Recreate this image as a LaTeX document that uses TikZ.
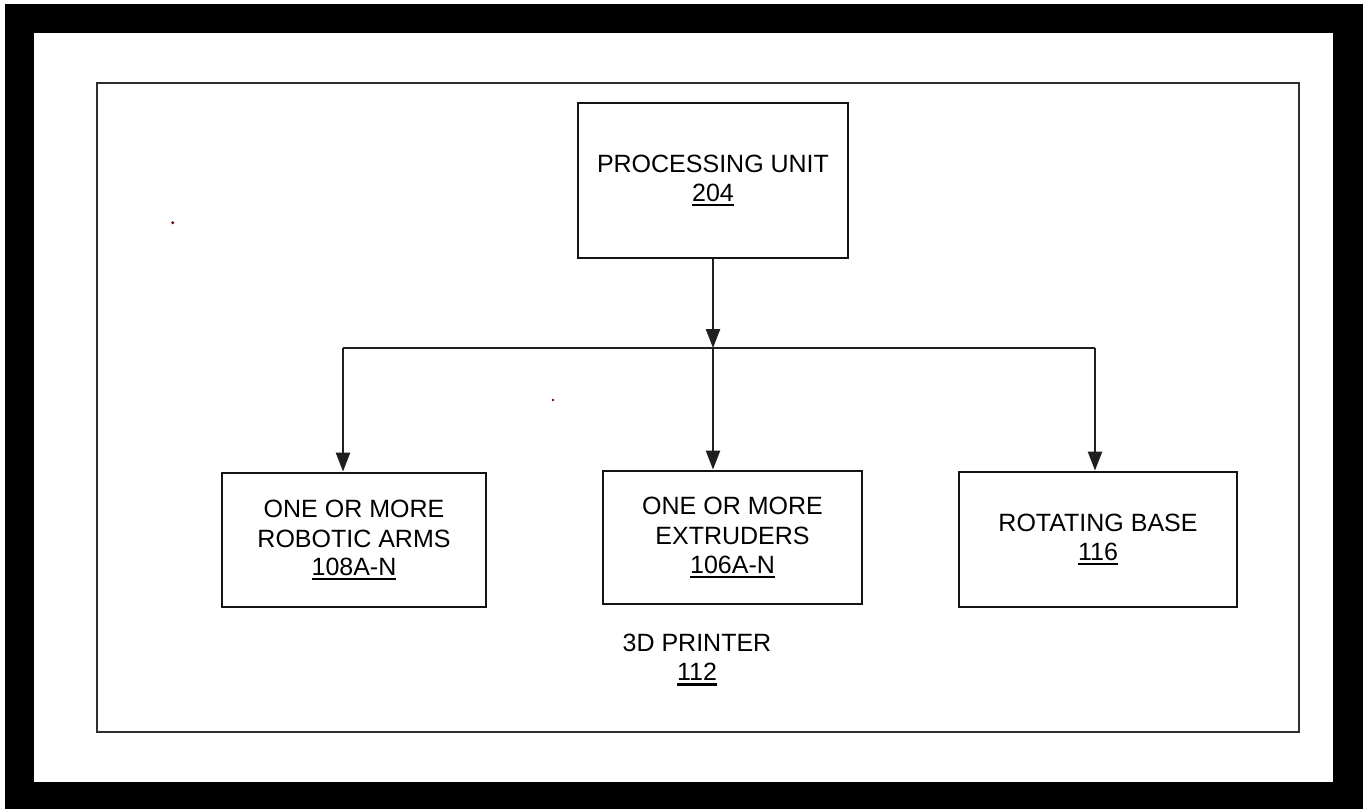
\documentclass[tikz,border=0pt]{standalone}
\usepackage{fontspec}
\setmainfont{Liberation Sans}
\usetikzlibrary{arrows.meta}
% reference numeral with a heavy underline
\newcommand\refnum[1]{\setbox0\hbox{#1}\rlap{\copy0}\rule[-5pt]{\wd0}{2.6pt}}
\begin{document}
\begin{tikzpicture}[x=1pt,y=-1pt,
  blockbox/.style={draw=black!92,line width=2.8pt,align=center,inner sep=0pt,
    font=\fontsize{25}{30}\selectfont},
  link/.style={draw=black!88,line width=2.4pt},
  flow/.style={link,-{Triangle[width=14pt,length=19pt]}},
  lbl/.style={align=center,inner sep=0pt,font=\fontsize{25}{30}\selectfont}]
  \useasboundingbox (0,0) rectangle (1367,809);
  % heavy black mat and white page
  \fill[black] (5,4) rectangle (1363,809);
  \fill[white] (34,33) rectangle (1333,782);
  % enclosing 3D printer outline
  \draw[draw=black!82,line width=2.2pt] (97,83) rectangle (1299,732);
  % blocks
  \node[blockbox,minimum width=270pt,minimum height=155pt] (pu) at (713,180.5)
    {PROCESSING UNIT\\[-1pt]\refnum{204}};
  \node[blockbox,minimum width=264pt,minimum height=134pt] (arms) at (354,540)
    {ONE OR MORE\\ROBOTIC ARMS\\[-2pt]\refnum{108A-N}};
  \node[blockbox,minimum width=259pt,minimum height=133pt] (ext) at (732.5,537.5)
    {ONE OR MORE\\EXTRUDERS\\[-1pt]\refnum{106A-N}};
  \node[blockbox,minimum width=278pt,minimum height=135pt] (base) at (1098,539.5)
    {ROTATING BASE\\[-1pt]\refnum{116}};
  \node[lbl] (printer) at (697,660) {3D PRINTER\\[-1pt]\refnum{112}};
  % distribution bus
  \coordinate (split) at (713,348);
  \coordinate (bl) at (343,348);
  \coordinate (br) at (1095,348);
  \path[flow] (pu.south) -- (split);
  \path[link] (bl) -- (br);
  \path[flow] (bl) -- (bl |- arms.north);
  \path[flow] (split) -- (split |- ext.north);
  \path[flow] (br) -- (br |- base.north);
  % stray specks
  \fill[red!45!black] (172.7,222.7) circle (1.6);
  \fill[red!45!black] (553,400) circle (1.4);
\end{tikzpicture}
\end{document}
